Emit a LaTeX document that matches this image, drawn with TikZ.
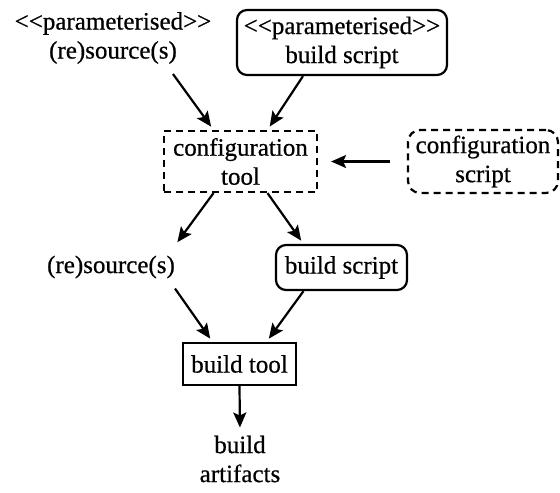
\documentclass[tikz,border=0pt]{standalone}
\usepackage{fontspec}
\newfontfamily\diagfont{Liberation Serif}[FakeBold=0.6]
\usetikzlibrary{arrows.meta}

\newcommand{\stereo}[1]{<\kern0pt<#1>\kern0pt>}

\tikzset{
  box/.style={draw, line width=2.2pt, align=center, inner sep=0pt},
  rbox/.style={box, rounded corners=10pt},
  dbox/.style={box, dash pattern=on 7pt off 5pt},
  drbox/.style={dbox, rounded corners=12pt},
  plain/.style={align=center, inner sep=10pt},
  arr/.style={-{Stealth[length=15pt,width=13pt,inset=3pt]}, line width=2.2pt, shorten >=4pt},
}

\begin{document}
\begin{tikzpicture}
[
  x=1pt, y=-1pt,
  every node/.style={font=\diagfont\fontsize{25pt}{29pt}\selectfont},
]
\useasboundingbox (0,0) rectangle (560,493);

% inputs
\node[plain] (pres) at (113,38) {\stereo{parameterised}\\(re)source(s)};
\node[rbox, minimum width=210pt, minimum height=65pt] (pbs) at (342,42.5) {\stereo{parameterised}\\build script};

% configuration step
\node[dbox, minimum width=153pt, minimum height=61pt] (ctool) at (240.5,161.5) {configuration\\tool};
\node[drbox, minimum width=150pt, minimum height=63pt] (cscript) at (483,161.5) {configuration\\script};

% build step
\node[plain] (res) at (111,267) {(re)source(s)};
\node[rbox, minimum width=131pt, minimum height=45pt] (bs) at (341.5,267.5) {build script};
\node[box, minimum width=113pt, minimum height=42pt] (btool) at (239.5,364) {build tool};
\node[plain, inner sep=4pt] (art) at (240,459) {build\\artifacts};

\draw[arr] ([xshift=60pt]pres.south) -- ([xshift=-27pt]ctool.north);
\draw[arr] ([xshift=-39pt]pbs.south) -- ([xshift=27pt]ctool.north);
\draw[arr, shorten <=17pt, shorten >=13pt] (cscript.west) -- (ctool.east);

\draw[arr] ([xshift=-27pt]ctool.south) -- ([xshift=64pt]res.north);
\draw[arr] ([xshift=27pt]ctool.south) -- ([xshift=-38pt]bs.north);

\draw[arr] ([xshift=64pt]res.south) -- ([xshift=-27pt]btool.north);
\draw[arr] ([xshift=-38pt]bs.south) -- ([xshift=27pt]btool.north);
\draw[arr] (btool.south) -- (art.north);

\end{tikzpicture}
\end{document}
